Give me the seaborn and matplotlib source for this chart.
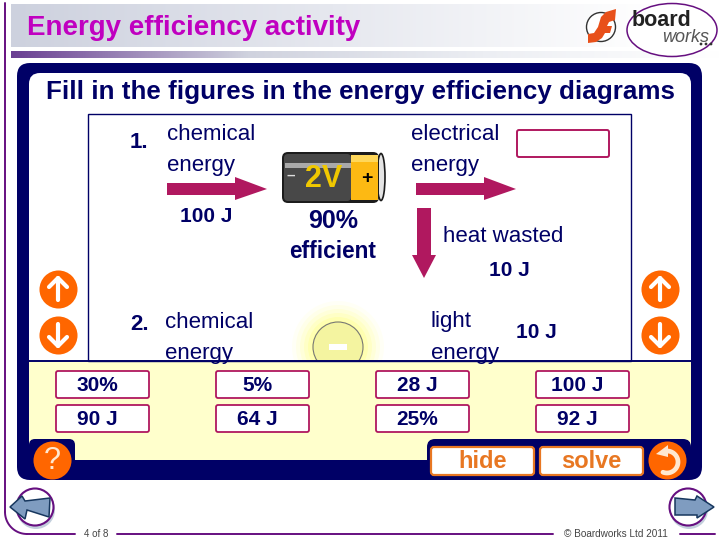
import numpy as np
import pandas as pd
import seaborn as sns
import matplotlib
matplotlib.use("Agg")
import matplotlib.pyplot as plt
from matplotlib.colors import LinearSegmentedColormap
from matplotlib.patches import FancyBboxPatch, Polygon, Rectangle, Ellipse, Circle

sns.set_theme(style="white")
plt.rcParams["font.family"] = ["Liberation Sans", "DejaVu Sans"]

NAVY = "#000066"
PURPLE = "#660f80"
MAROON = "#b0185f"
ORANGE = "#ff6600"

# answer tiles
tile_labels = ["30%", "5%", "28 J", "100 J", "90 J", "64 J", "25%", "92 J"]
tile_col = [0, 1, 2, 3, 0, 1, 2, 3]
tile_row = [0, 0, 0, 0, 1, 1, 1, 1]

# round buttons
btn_x = [58, 58, 660, 660, 52, 667]
btn_y = [289, 335, 289, 335, 460, 460]
btn_sign = ["up", "down", "up", "down", "?", "back"]

fig = plt.figure(figsize=(7.2, 5.4), dpi=100)
ax = fig.add_axes([0, 0, 1, 1])
ax.set_xlim(0, 720)
ax.set_ylim(540, 0)
ax.axis("off")


def box(x0, y0, x1, y1, r, fc, ec="none", lw=0, z=2):
    p = FancyBboxPatch((x0 + r, y0 + r), x1 - x0 - 2 * r, y1 - y0 - 2 * r,
                       boxstyle=f"round,pad={r},rounding_size={r}",
                       fc=fc, ec=ec, lw=lw, zorder=z)
    ax.add_patch(p)


def hgrad(x0, y0, x1, y1, colors, z=1):
    cm = LinearSegmentedColormap.from_list("g", colors)
    ax.imshow(np.linspace(0, 1, 256).reshape(1, -1), cmap=cm, aspect="auto",
              extent=(x0, x1, y1, y0), zorder=z)


def label(x, y, s, size, color=NAVY, bold=False, ha="left", z=6):
    ax.text(x, y, s, fontsize=size, color=color, ha=ha, va="center",
            fontweight="bold" if bold else "normal", zorder=z)


def arrow(pts, color=MAROON, z=5):
    ax.add_patch(Polygon(pts, closed=True, fc=color, ec="none", zorder=z))


# header bands
hgrad(11, 4, 655, 47, ["#cdd1de", "#e6e8ef", "#ffffff"])
hgrad(11, 51, 720, 58, ["#6a3f92", "#cfd2de", "#eceef3", "#ffffff"])
label(27, 28, "Energy efficiency activity", 20, color="#c000c0", bold=True)

# outer purple frame
ax.plot([5, 5], [3, 512], color=PURPLE, lw=1.4, zorder=3)
ax.plot(5 + 22 * (1 - np.cos(np.linspace(0, np.pi / 2, 20))),
        512 + 22 * np.sin(np.linspace(0, np.pi / 2, 20)), color=PURPLE, lw=1.4, zorder=3)
ax.plot([27, 75], [534, 534], color=PURPLE, lw=1.4, zorder=3)
ax.plot([117, 553], [534, 534], color=PURPLE, lw=1.4, zorder=3)
ax.plot([680, 715], [534, 534], color=PURPLE, lw=1.4, zorder=3)
label(96, 534, "4 of 8", 7, color="#444444", ha="center")
label(616, 534, "© Boardworks Ltd 2011", 7.2, color="#444444", ha="center")

# logos
ax.add_patch(Ellipse((672, 30), 90, 53, fc="white", ec=PURPLE, lw=1.1, zorder=3))
label(632, 21, "board", 15.5, color="#222222", bold=True)
ax.text(686, 38, "works", fontsize=13, color="#555555", style="italic",
        ha="center", va="center", zorder=4)
for dx in (701, 706, 711):
    ax.add_patch(Circle((dx, 44), 1.4, fc="#333333", ec="none", zorder=4))
ax.add_patch(Circle((601, 27), 14.5, fc="white", ec="#333333", lw=1, zorder=3))
arrow([(588, 43), (588, 34), (594, 33), (598, 27), (601, 17), (606, 12), (616, 9),
       (615, 20), (609, 22), (607, 26), (612, 26), (610, 33), (605, 33), (602, 38),
       (596, 42)], color="#e8501a")

# main panel
box(17, 63, 702, 480, 13, NAVY, z=2)
box(29, 73, 691, 460, 11, "white", z=3)
ax.add_patch(Rectangle((29, 362), 662, 98, fc="#ffffcc", ec="none", zorder=4))
ax.plot([29, 691], [361, 361], color=NAVY, lw=1.4, zorder=5)
label(46, 92, "Fill in the figures in the energy efficiency diagrams", 18.7, bold=True)

# bottom tabs
ax.add_patch(Rectangle((29, 460), 662, 9, fc=NAVY, ec="none", zorder=4))
box(29, 439, 75, 475, 6, NAVY, z=4)
box(427, 439, 691, 475, 8, NAVY, z=4)

# diagram frame
ax.add_patch(Rectangle((88, 114), 543, 247, fc="none", ec=NAVY, lw=1, zorder=4))
label(130, 142, "1.", 16, bold=True)
label(130, 324, "2.", 16, bold=True)
label(167, 134, "chemical", 16)
label(167, 165, "energy", 16)
label(165, 322, "chemical", 16)
label(165, 353, "energy", 16)
label(411, 134, "electrical", 16)
label(411, 165, "energy", 16)
label(431, 322, "light", 16)
label(431, 353, "energy", 16)
label(443, 236, "heat wasted", 16)
label(180, 216, "100 J", 15, bold=True)
label(489, 271, "10 J", 15, bold=True)
label(516, 333, "10 J", 15, bold=True)
label(333, 221, "90%", 18, bold=True, ha="center")
label(333, 251, "efficient", 16.3, bold=True, ha="center")
box(517, 130, 609, 157, 2, "white", ec=MAROON, lw=1.4, z=5)

arrow([(167, 183), (235, 183), (235, 177), (267, 189), (235, 200), (235, 195), (167, 195)])
arrow([(416, 183), (484, 183), (484, 177), (516, 189), (484, 200), (484, 195), (416, 195)])
arrow([(417, 208), (431, 208), (431, 255), (436, 255), (424, 278), (412, 255), (417, 255)])

# battery
ax.add_patch(Ellipse((381, 177), 8, 47, fc="#e4e4e4", ec="#1c1c1c", lw=1.2, zorder=5))
box(282, 152, 379, 203, 6, "#1c1c1c", z=5)
box(284, 154, 351, 201, 4, "#484848", z=5)
ax.add_patch(Rectangle((351, 155), 27, 45, fc="#fdb913", ec="none", zorder=5))
ax.add_patch(Rectangle((285, 163), 66, 5, fc="#a9a9a9", ec="none", zorder=5))
ax.add_patch(Rectangle((351, 155), 27, 7, fc="#ffd75a", ec="none", zorder=5))
label(324, 179, "2V", 22, color="#f0c800", bold=True, ha="center")
label(367, 178, "+", 14, color="black", bold=True, ha="center")
label(291, 176, "–", 11, color="#dddddd", bold=True, ha="center")

# bulb glow
for r, a in [(46, .05), (42, .08), (38, .10), (34, .14), (30, .18), (26, .22)]:
    ax.add_patch(Circle((338, 347), r, fc="#ffff55", ec="none", alpha=a, zorder=3.5))
ax.add_patch(Circle((338, 347), 25, fc="#f4f4a0", ec="#777777", lw=.8, zorder=3.6))
ax.add_patch(Rectangle((329, 344), 18, 6, fc="white", ec="none", zorder=3.7))

# answer tiles
col_x = [56, 216, 376, 536]
row_y = [371, 405]
tiles = pd.DataFrame({"label": tile_labels, "col": tile_col, "row": tile_row})
for _, t in tiles.iterrows():
    x0 = col_x[t["col"]]
    y0 = row_y[t["row"]]
    box(x0, y0, x0 + 93, y0 + 27, 2, "white", ec=MAROON, lw=1.3, z=5)
    label(x0 + 41, y0 + 14.5, t["label"], 15, bold=True, ha="center")

# hide / solve
box(431, 447, 534, 475, 3, "white", ec="#e87722", lw=1.6, z=5)
box(540, 447, 643, 475, 3, "white", ec="#e87722", lw=1.6, z=5)
label(483, 461, "hide", 17, color="#e87722", bold=True, ha="center")
label(591, 461, "solve", 17, color="#e87722", bold=True, ha="center")

# round buttons
buttons = pd.DataFrame({"x": btn_x, "y": btn_y, "sign": btn_sign})
sns.scatterplot(data=buttons, x="x", y="y", s=750, color=ORANGE, linewidth=0,
                legend=False, zorder=6, ax=ax)
ax.set_xlabel("")
ax.set_ylabel("")
ax.set_xlim(0, 720)
ax.set_ylim(540, 0)
ax.axis("off")
for _, b in buttons.iterrows():
    x, y = b["x"], b["y"]
    if b["sign"] in ("up", "down"):
        d = -1 if b["sign"] == "up" else 1
        ax.plot([x, x], [y - d * 11, y + d * 11], color="white", lw=3, zorder=7, solid_capstyle="round")
        ax.plot([x - 9, x, x + 9], [y + d * 2, y + d * 11, y + d * 2], color="white", lw=3,
                zorder=7, solid_capstyle="round", solid_joinstyle="round")
    elif b["sign"] == "?":
        label(x, y + 1, "?", 22, color="#ffe8d0", ha="center", z=7)
    else:
        t = np.linspace(-np.pi / 2, np.pi * 0.62, 30)
        ax.plot(x + 11 * np.cos(t), y + 2 + 11 * np.sin(t), color="#ffe8d0", lw=3.4, zorder=7)
        arrow([(x - 11, y - 6), (x + 1, y - 15), (x + 1, y - 3)], color="#ffe8d0", z=7)

# page arrows
left_arrow = [(10, 507), (22, 496), (25, 501), (50, 498), (49, 517), (27, 510), (25, 519)]
right_arrow = [(714, 507), (697, 496), (695, 500), (675, 498), (675, 515), (697, 515), (697, 518)]
for cx, pts in [(35, left_arrow), (688, right_arrow)]:
    ax.add_patch(Circle((cx + 1, 510), 19, fc="#c3cfdc", ec="none", zorder=3))
    ax.add_patch(Circle((cx, 507), 18.5, fc="white", ec=PURPLE, lw=1.5, zorder=3))
    ax.add_patch(Polygon(pts, closed=True, fc="#7f9cc0", ec="#17375e", lw=1.1, zorder=5))

fig.savefig("out.png", dpi=100)
